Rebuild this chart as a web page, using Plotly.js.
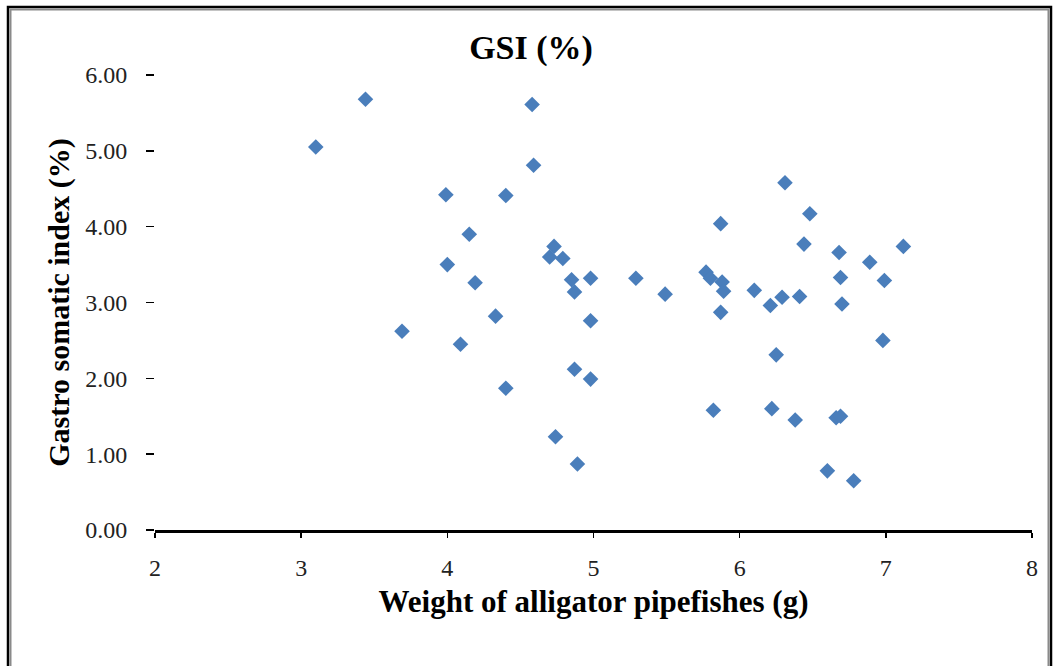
<!DOCTYPE html>
<html>
<head>
<meta charset="utf-8">
<script src="https://cdn.plot.ly/plotly-3.0.1.min.js"></script>
<style>
  html, body { margin: 0; padding: 0; background: #ffffff; }
  #chart { width: 1054px; height: 666px; }
</style>
</head>
<body>
<div id="chart"></div>
<script>
// Weight of alligator pipefishes (g)
const weight = [
  3.10, 3.44, 3.69, 3.99, 4.00, 4.09, 4.15, 4.19, 4.33, 4.40,
  4.40, 4.58, 4.59, 4.70, 4.73, 4.79, 4.74, 4.85, 4.87, 4.87,
  4.89, 4.98, 4.98, 4.98, 5.29, 5.49, 5.77, 5.80, 5.82, 5.87,
  5.88, 5.89, 5.87, 6.10, 6.21, 6.22, 6.25, 6.29, 6.31, 6.38,
  6.41, 6.44, 6.48, 6.60, 6.66, 6.69, 6.68, 6.69, 6.70, 6.78,
  6.89, 6.98, 6.99, 7.12
];
// Gastro somatic index (%)
const gsi = [
  5.05, 5.68, 2.62, 4.42, 3.50, 2.45, 3.90, 3.26, 2.82, 4.41,
  1.87, 5.61, 4.81, 3.60, 3.74, 3.58, 1.23, 3.30, 3.14, 2.12,
  0.87, 3.32, 2.76, 1.99, 3.32, 3.11, 3.40, 3.32, 1.58, 2.87,
  3.27, 3.15, 4.04, 3.16, 2.96, 1.60, 2.31, 3.07, 4.58, 1.45,
  3.08, 3.77, 4.17, 0.78, 1.48, 1.50, 3.66, 3.33, 2.98, 0.65,
  3.53, 2.50, 3.29, 3.74
];
const xTickVals = [2, 3, 4, 5, 6, 7, 8];
const yTickVals = [0, 1, 2, 3, 4, 5, 6];

const W = 1054, H = 666;
const M = { l: 155, r: 22, t: 75, b: 136 };
const pw = W - M.l - M.r, ph = H - M.t - M.b;
const px = v => (v - M.l) / pw;          // pixel x -> paper x
const py = v => (H - M.b - v) / ph;      // pixel y -> paper y

const serif = 'Liberation Serif, Times New Roman, serif';

const trace = {
  type: 'scatter',
  mode: 'markers',
  x: weight,
  y: gsi,
  marker: { symbol: 'diamond', size: 12, color: '#4a7ebb', line: { width: 0 } },
  hoverinfo: 'x+y'
};

const layout = {
  width: W, height: H,
  margin: M,
  paper_bgcolor: '#ffffff',
  plot_bgcolor: '#ffffff',
  showlegend: false,
  title: {
    text: '<b>GSI (%)</b>',
    font: { family: serif, size: 34, color: '#000000' },
    xref: 'paper', x: px(531), xanchor: 'center',
    yref: 'container', y: 1 - 47 / H, yanchor: 'middle'
  },
  xaxis: {
    range: [2, 8],
    tickvals: xTickVals,
    ticktext: xTickVals.map(String),
    showgrid: false, zeroline: false,
    showline: true, linecolor: '#000000', linewidth: 2.5,
    ticks: 'outside', ticklen: 5, tickwidth: 1.5, tickcolor: '#000000',
    ticklabelstandoff: 10,
    tickfont: { family: serif, size: 24, color: '#222222' },
    title: {
      text: '<b>Weight of alligator pipefishes (g)</b>',
      font: { family: serif, size: 31, color: '#000000' },
      standoff: 10
    },
    fixedrange: true
  },
  yaxis: {
    range: [0, 6],
    tickvals: yTickVals,
    tickformat: '.2f',
    showgrid: false, zeroline: false,
    showline: false,
    ticks: 'outside', ticklen: 8, tickwidth: 1.5, tickcolor: '#000000',
    ticklabelstandoff: 14,
    tickfont: { family: serif, size: 24, color: '#222222' },
    title: {
      text: '<b>Gastro somatic index (%)</b>',
      font: { family: serif, size: 30, color: '#000000' },
      standoff: 6
    },
    fixedrange: true
  },
  shapes: [
    { type: 'rect', xref: 'paper', yref: 'paper', layer: 'above',
      x0: px(8), x1: px(1051), y0: py(690), y1: py(7),
      line: { color: '#000000', width: 2.5 }, fillcolor: 'rgba(0,0,0,0)' },
    { type: 'rect', xref: 'paper', yref: 'paper', layer: 'above',
      x0: px(10.5), x1: px(1048.5), y0: py(690), y1: py(9.5),
      line: { color: '#8a8a8a', width: 2 }, fillcolor: 'rgba(0,0,0,0)' }
  ]
};

Plotly.newPlot('chart', [trace], layout, { displayModeBar: false, staticPlot: true });
</script>
</body>
</html>
